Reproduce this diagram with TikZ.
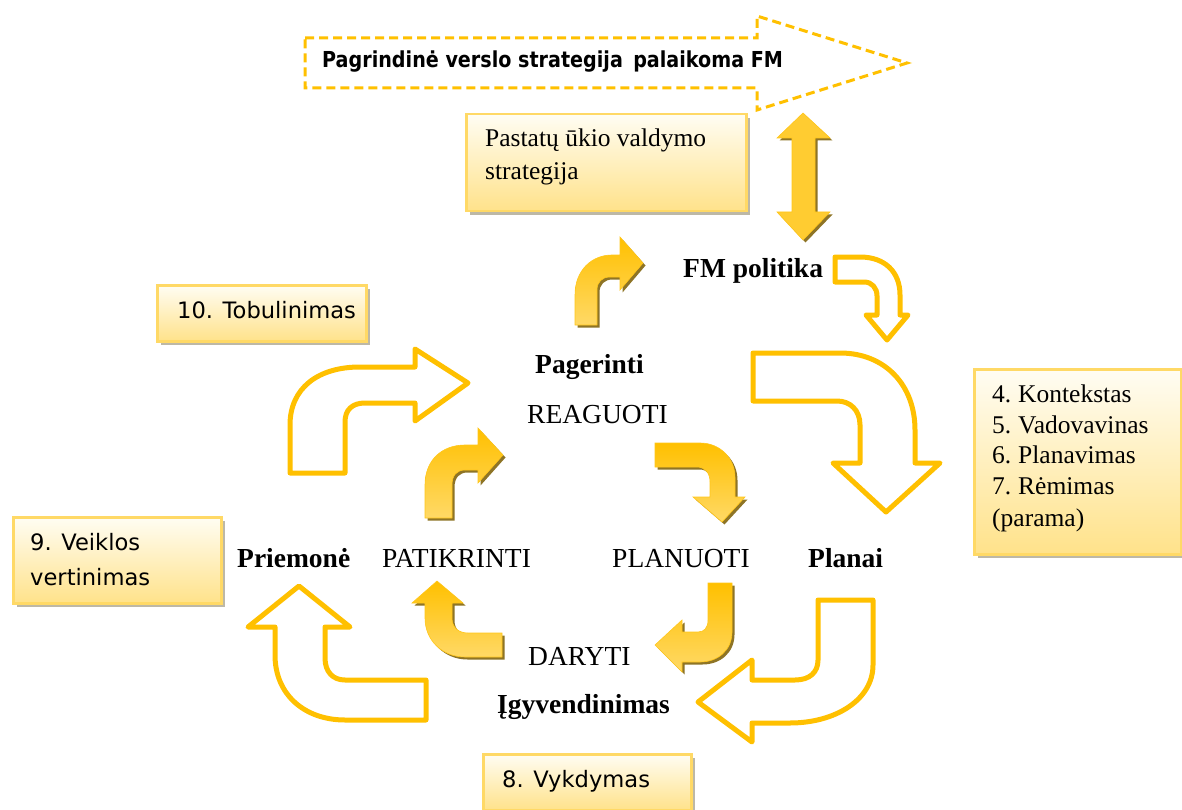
\documentclass[tikz,border=0pt]{standalone}
\usepackage{fontspec}
\setmainfont{Liberation Serif}
\newfontfamily\tah{DejaVu Sans}
\newfontfamily\tahnarrow[FakeStretch=0.87]{DejaVu Sans}
\usetikzlibrary{shadows}

\definecolor{gold}{HTML}{FFC000}
\definecolor{goldlt}{HTML}{FFD966}
\definecolor{goldmid}{HTML}{FFC61A}
\definecolor{goldpale}{HTML}{FFE28A}
\definecolor{cream}{HTML}{FFFDF3}
\definecolor{boxedge}{HTML}{FFD966}
\definecolor{arrdark}{HTML}{7A5C00}
\definecolor{boxshadow}{HTML}{BDB8A6}

% outline block arrows
\newcommand\shpBigTL{(290,473) -- (290,425) .. controls (290,388) and (318,367) .. (360,367) -- (415,367) -- (415,349) -- (468,383) -- (415,421) -- (415,403) -- (365,403) .. controls (352,403) and (345,410) .. (345,422) -- (345,473) -- cycle}
\newcommand\shpBigTR{(753,353) -- (840,353) .. controls (885,353) and (915,385) .. (915,430) -- (915,463) -- (940,463) -- (886,512) -- (833,463) -- (860,463) -- (860,425) .. controls (860,410) and (850,401) .. (837,401) -- (753,401) -- cycle}
\newcommand\shpSmallFM{(835,257) -- (860,257) .. controls (885,257) and (900,272) .. (900,295) -- (900,315) -- (908,315) -- (887,340) -- (866,315) -- (877,315) -- (877,296) .. controls (877,288) and (872,282) .. (864,282) -- (835,282) -- cycle}
\newcommand\shpBigBR{(818,600) -- (873,600) -- (873,665) .. controls (873,700) and (835,723) .. (790,723) -- (752,723) -- (752,742) -- (698,702) -- (752,660) -- (752,680) -- (795,680) .. controls (810,680) and (818,672) .. (818,660) -- cycle}
\newcommand\shpBigBL{(426,680) -- (426,720) -- (345,720) .. controls (305,720) and (275,695) .. (275,655) -- (275,627) -- (248,627) -- (299,586) -- (350,627) -- (325,627) -- (325,658) .. controls (325,672) and (333,680) .. (345,680) -- cycle}
% filled block arrows
\newcommand\shpFillTop{(575,325) -- (575,295) .. controls (575,270) and (592,255) .. (612,255) -- (620,255) -- (620,237) -- (643,263) -- (620,290) -- (620,277) -- (610,277) .. controls (602,277) and (597,282) .. (597,290) -- (597,325) -- cycle}
\newcommand\shpFillLeft{(425,518) -- (425,485) .. controls (425,460) and (442,445) .. (465,445) -- (478,445) -- (478,428) -- (503,455) -- (478,483) -- (478,470) -- (465,470) .. controls (457,470) and (452,475) .. (452,485) -- (452,518) -- cycle}
\newcommand\shpFillRight{(655,443) -- (700,443) .. controls (720,443) and (735,458) .. (735,478) -- (735,497) -- (745,497) -- (722,522) -- (693,497) -- (710,497) -- (710,482) .. controls (710,473) and (705,467) .. (697,467) -- (655,467) -- cycle}
\newcommand\shpFillDown{(708,583) -- (732,583) -- (732,632) .. controls (732,650) and (718,662) .. (700,662) -- (682,662) -- (682,672) -- (655,645) -- (682,620) -- (682,632) -- (698,632) .. controls (704,632) and (708,628) .. (708,620) -- cycle}
\newcommand\shpFillUp{(502,633) -- (502,657) -- (465,657) .. controls (442,657) and (425,640) .. (425,618) -- (425,603) -- (412,603) -- (437,581) -- (463,603) -- (452,603) -- (452,618) .. controls (452,627) and (458,633) .. (468,633) -- cycle}
\newcommand\shpDouble{(803,113) -- (830,138) -- (815,138) -- (815,212) -- (830,212) -- (803,240) -- (777,212) -- (792,212) -- (792,138) -- (777,138) -- cycle}

\begin{document}
\begin{tikzpicture}[x=1pt,y=-1pt,
  outarrow/.style={draw=gold, line width=5pt, line join=round, fill=white},
  darkedge/.style={fill=arrdark, opacity=0.85, xshift=2.5pt, yshift=-2.5pt},
  goldshade/.style={top color=gold, middle color=gold, bottom color=goldlt, draw=goldmid, line width=0.6pt},
  infobox/.style={draw=boxedge, line width=2.5pt, top color=cream, bottom color=goldpale,
    inner sep=0pt, anchor=north west,
    drop shadow={shadow xshift=3.5pt, shadow yshift=-3.5pt, fill=boxshadow, opacity=1}},
  lbl/.style={anchor=base west, inner sep=0pt, font=\fontsize{27.5}{33}\selectfont},
  lblb/.style={anchor=base west, inner sep=0pt, font=\fontsize{27.5}{33}\selectfont\bfseries},
  boxtxt/.style={anchor=base west, inner sep=0pt, font=\fontsize{25.5}{31}\selectfont},
  sanstxt/.style={anchor=base west, inner sep=0pt, font=\tah\fontsize{22.6}{27}\selectfont}]

\useasboundingbox (0,0) rectangle (1182,810);

% top dashed strategy arrow
\draw[draw=gold, line width=3pt, dash pattern=on 9pt off 5pt, line join=miter]
  (305,38) -- (757,38) -- (757,16) -- (907,63) -- (757,110) -- (757,88) -- (305,88) -- cycle;
\node[anchor=base west, inner sep=0pt, font=\tahnarrow\bfseries\fontsize{22}{26}\selectfont] (mainstrat)
  at (322,68) {Pagrindinė verslo strategija\, palaikoma FM};

% information boxes
\node[infobox, minimum width=280pt, minimum height=97pt] (stratbox) at (465,113) {};
\node[infobox, minimum width=209pt, minimum height=56pt] (tobbox) at (156,284) {};
\node[infobox, minimum width=207pt, minimum height=185pt] (listbox) at (973,368) {};
\node[infobox, minimum width=208pt, minimum height=86pt] (vertbox) at (12,516) {};
\node[infobox, minimum width=208pt, minimum height=56pt] (vykbox) at (482,753) {};

\node[boxtxt] (strat1) at (485,147) {Pastatų ūkio valdymo};
\node[boxtxt] (strat2) at (485,180) {strategija};
\node[sanstxt] (tob) at (177,318) {10. Tobulinimas};
\node[sanstxt] (vert1) at (30,550) {9. Veiklos};
\node[sanstxt] (vert2) at (30,585) {vertinimas};
\node[sanstxt] (vyk) at (502,787) {8. Vykdymas};
\node[boxtxt] (li4) at (992,402) {\makebox[26pt][l]{4.}Kontekstas};
\node[boxtxt] (li5) at (992,433) {\makebox[26pt][l]{5.}Vadovavinas};
\node[boxtxt] (li6) at (992,463) {\makebox[26pt][l]{6.}Planavimas};
\node[boxtxt] (li7) at (992,494) {\makebox[26pt][l]{7.}Rėmimas};
\node[boxtxt] (li8) at (992,526) {(parama)};

% double arrow between strategy and policy
\fill[darkedge] \shpDouble;
\shade[left color=goldmid!70!goldlt, middle color=gold, right color=goldmid!70!goldlt, draw=goldmid, line width=0.6pt] \shpDouble;

% outer cycle (outline arrows)
\draw[outarrow] \shpSmallFM;
\draw[outarrow] \shpBigTR;
\draw[outarrow] \shpBigBR;
\draw[outarrow] \shpBigBL;
\draw[outarrow] \shpBigTL;

% inner cycle (filled arrows)
\fill[darkedge] \shpFillTop;   \shade[goldshade] \shpFillTop;
\fill[darkedge] \shpFillLeft;  \shade[goldshade] \shpFillLeft;
\fill[darkedge] \shpFillRight; \shade[goldshade] \shpFillRight;
\fill[darkedge] \shpFillDown;  \shade[goldshade] \shpFillDown;
\fill[darkedge] \shpFillUp;    \shade[goldshade] \shpFillUp;

% cycle labels
\node[lblb] (fmpol) at (683,277) {FM politika};
\node[lblb] (pager) at (535,373) {Pagerinti};
\node[lbl]  (reag)  at (527,423) {REAGUOTI};
\node[lblb] (priem) at (237,567) {Priemonė};
\node[lbl]  (patik) at (382,567) {PATIKRINTI};
\node[lbl]  (planu) at (612,567) {PLANUOTI};
\node[lblb] (plan)  at (808,567) {Planai};
\node[lbl]  (dar)   at (528,665) {DARYTI};
\node[lblb] (igyv)  at (497,713) {Įgyvendinimas};
\end{tikzpicture}
\end{document}
